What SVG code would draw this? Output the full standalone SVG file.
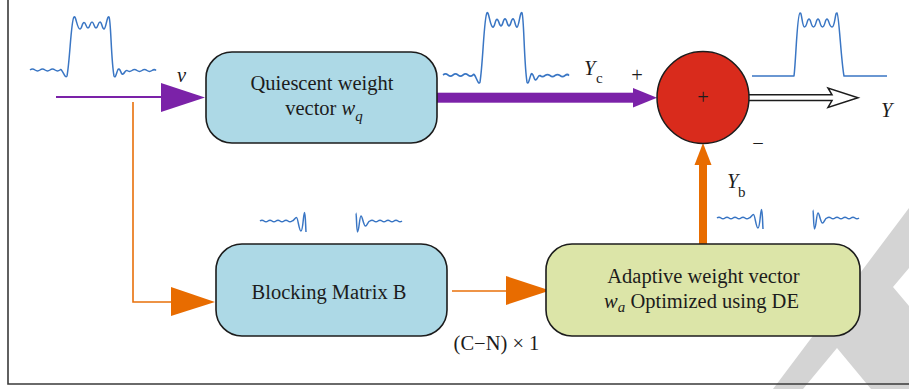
<svg xmlns="http://www.w3.org/2000/svg" width="909" height="389" viewBox="0 0 909 389">
<style>
.box{stroke:#1c1c1c;stroke-width:1.6}
.blue{fill:#add9e6}
.green{fill:#dce5a8}
.t{font-family:"Liberation Serif","Times New Roman",serif;font-size:20.5px;fill:#1c1c1c}
.i{font-style:italic}
.sub{font-size:15px}
.wave{fill:none;stroke:#3a76c4;stroke-width:1.5;stroke-linejoin:round}
.thinP{stroke:#7b22a8;stroke-width:2;fill:none}
.fillP{fill:#7b22a8}
.thinO{stroke:#e8700a;stroke-width:1.6;fill:none}
.fillO{fill:#e86c00}
</style>
<defs>
<path id="pulse" d="M0,0 q2.5,-1.8 5,0 t5,0 t5,0 t5,0 t5,0 t5,0 C32,-3 35,10 37,6 C40,-10 41,-50 44,-53 C46,-55 47,-41 50,-41 C52,-41 52,-47.5 54,-47.5 C56,-47.5 56,-42 58,-42 C60,-42 60,-48 62,-48 C64,-48 64,-42 66,-42 C68,-42 68,-48 70,-48 C72,-48 72,-41 74,-41 C76,-41 77,-55 79,-53 C81,-50 81,-10 84,6 C86,10 87,-2 89,-1 C91,0 91,5 93,4 C95,3 95,0 97,0.5 q2.5,1.8 5,0 t5,0 t5,0 t5,0 t5,0 t4,0"/>
<path id="edgeL" d="M0,0 q2,-1.5 4,0 t4,0 t4,0 t4,0 t4,0 t4,0 t4,0 t4,0 C34,0 35,-3.5 36.5,-3.5 C38,-3.5 39,10 41,10 C43,10 43.5,-8.5 44.5,-8.5 C45.5,-8.5 45.5,4 46,11"/>
<path id="edgeR" d="M0,-8 C0.5,-8 0.5,11 1.5,11 C3,11 3.5,-5 5,-5 C6.5,-5 7.5,5 9.5,5 C11,5 12,0 14,0 q2,-1.5 4,0 t4,0 t4,0 t4,0 t4,0 t4,0 t4,0 t4,0"/>
</defs>

<!-- watermark -->
<path d="M773,389 L909,208 L909,268 L893,287 L909,306 L909,389 L871,389 L837,348 L803,389 Z" fill="#d4d4d4"/>

<!-- frame -->
<path d="M8,0 L8,384 L909,384" fill="none" stroke="#3a3a3a" stroke-width="1.6"/>

<!-- waveforms -->
<g id="waveforms" class="wave">
<use href="#pulse" transform="translate(30,70)" vector-effect="non-scaling-stroke"/>
<use href="#pulse" transform="translate(443,75) scale(1,1.17)"/>
<path d="M752,76 L794,76 C796,60 797,14 800,13 C802,12 802,27 804.5,27 C807,27 807,19 809,19 C811,19 811,27 813.5,27 C816,27 816,19 818,19 C820,19 820,27 822.5,27 C825,27 825,19 827,19 C829,19 829,27 832,27 C835,27 835,12 837,13 C839,14 841,60 844,76 L887,76"/>
<use href="#edgeL" transform="translate(260,221)"/>
<use href="#edgeR" transform="translate(356,221)"/>
<use href="#edgeL" transform="translate(717,218)"/>
<use href="#edgeR" transform="translate(813,218)"/>
</g>

<!-- connectors -->
<g id="connectors">
<line x1="56" y1="97" x2="163" y2="97" class="thinP"/>
<polygon points="161,83 205,97.5 161,112" class="fillP"/>
<path d="M133,102 L133,302 L172,302" class="thinO"/>
<polygon points="171,287 215,302 171,316" class="fillO"/>
<line x1="452" y1="291" x2="508" y2="291" class="thinO"/>
<polygon points="506,276 550,290.5 506,305" class="fillO"/>
<rect x="437" y="92.7" width="198" height="10" class="fillP"/>
<polygon points="633,88 657,97.7 633,107.4" class="fillP"/>
<rect x="699" y="163" width="8" height="81" class="fillO"/>
<polygon points="694.5,165 703,143 711.5,165" class="fillO"/>
<path d="M749,94.8 L832,94.8 L828,88 L858,97.7 L828,107.4 L832,100.6 L749,100.6" fill="#fff" stroke="#1c1c1c" stroke-width="1.5" stroke-linejoin="miter"/>
</g>

<!-- nodes -->
<g id="quiescent">
<rect x="206" y="52" width="231" height="91" rx="26" class="box blue"/>
<text x="322" y="90" text-anchor="middle" class="t">Quiescent weight</text>
<text x="324" y="115" text-anchor="middle" class="t">vector <tspan class="i">w</tspan><tspan class="i sub" dy="6">q</tspan></text>
</g>

<g id="blocking">
<rect x="216" y="244" width="231" height="92" rx="26" class="box blue"/>
<text x="329" y="299" text-anchor="middle" class="t">Blocking Matrix B</text>
</g>

<g id="adaptive">
<rect x="546" y="244" width="314" height="92" rx="26" class="box green"/>
<text x="703.5" y="283" text-anchor="middle" class="t">Adaptive weight vector</text>
<text x="701.5" y="308" text-anchor="middle" class="t"><tspan class="i">w</tspan><tspan class="i sub" dy="4">a</tspan><tspan dy="-4"> Optimized using DE</tspan></text>
</g>

<g id="summer">
<circle cx="703" cy="97.5" r="46" fill="#d92b1c" stroke="#1c1c1c" stroke-width="1.5"/>
<text x="703" y="104" text-anchor="middle" class="t" font-size="18">+</text>
</g>

<!-- labels -->
<g id="labels">
<text x="177" y="82" class="t i">ν</text>
<text x="584" y="75" class="t i">Y</text>
<text x="596" y="83" class="t sub">c</text>
<text x="637" y="82" text-anchor="middle" class="t" font-size="17">+</text>
<text x="758" y="150" text-anchor="middle" class="t" font-size="17">−</text>
<text x="881" y="117" class="t i">Y</text>
<text x="727" y="188" class="t i">Y</text>
<text x="738" y="197" class="t sub">b</text>
<text x="496.5" y="350" text-anchor="middle" class="t">(C−N) × 1</text>
</g>
</svg>
